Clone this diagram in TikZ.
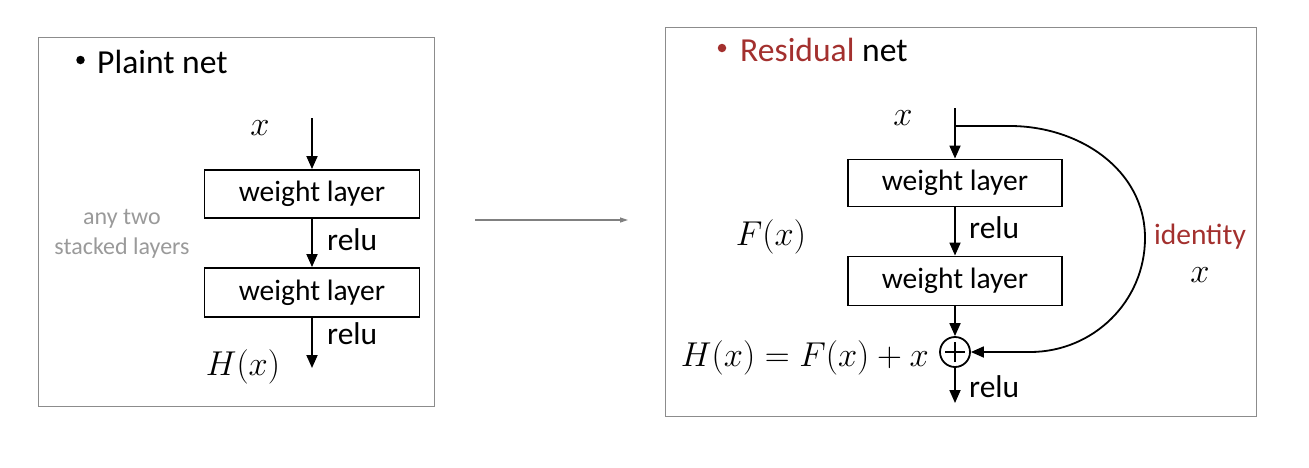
\RequirePackage{fix-cm}
\documentclass[tikz,border=0pt]{standalone}
\usepackage{fontspec}
\setmainfont{Carlito}
\usetikzlibrary{arrows.meta}
\definecolor{resred}{HTML}{A3302E}
\definecolor{panelgray}{HTML}{8C8C8C}
\definecolor{lightgray}{HTML}{9A9A9A}
\tikzset{
  panel/.style={draw=panelgray, line width=1pt},
  layerbox/.style={draw=black, line width=1.9pt, minimum width=215pt, inner sep=0pt, font=\fontsize{29.5}{34}\selectfont},
  flow/.style={line width=1.8pt, -{Triangle[length=13pt,width=11pt]}},
  lbl/.style={inner sep=0pt, font=\fontsize{31.5}{36}\selectfont},
  mathlbl/.style={inner sep=0pt, font=\fontsize{34.5}{40}\selectfont},
  title/.style={inner sep=0pt, anchor=west, font=\fontsize{33.6}{38}\selectfont},
  bulletdot/.style={circle, fill, inner sep=0pt, minimum size=8.5pt},
}
\begin{document}
\begin{tikzpicture}[x=1pt,y=-1pt]
\useasboundingbox (0,0) rectangle (1309,467);
% panels
\draw[panel] (38,37) rectangle (434,406);
\draw[panel] (665,27) rectangle (1256,416);

% ---------- left: plain net ----------
\node[bulletdot] (lbullet) at (80.5,60) {};
\node[title] (ltitle) at (97,62) {Plaint net};
\node[layerbox, minimum height=48pt] (lb1) at (312,194) {weight layer};
\node[layerbox, minimum height=49pt] (lb2) at (312,292.5) {weight layer};
\coordinate (lin) at (312,118);
\coordinate (lout) at (312,368);
\node[mathlbl] (lx) at (260,128) {$x$};
\node[mathlbl] (lH) at (243,367) {$H(x)$};
\node[lbl, anchor=west] (lrelu1) at (327,240) {relu};
\node[lbl, anchor=west] (lrelu2) at (327,334) {relu};
\node[inner sep=0pt, align=center, text=lightgray, font=\fontsize{24}{30}\selectfont] (lany) at (122,234) {any two\\stacked layers};
\draw[flow] (lin) -- (lb1.north);
\draw[flow] (lb1.south) -- (lb2.north);
\draw[flow] (lb2.south) -- (lout);

% ---------- middle arrow ----------
\coordinate (ma) at (475,220);
\coordinate (mb) at (628,220);
\draw[draw=gray, line width=1.2pt, -{Triangle[length=8pt,width=5pt]}] (ma) -- (mb);

% ---------- right: residual net ----------
\node[bulletdot, fill=resred] (rbullet) at (722,48) {};
\node[title] (rtitle) at (740,50) {\textcolor{resred}{Residual} net};
\node[layerbox, minimum width=214pt, minimum height=47pt] (rb1) at (955,183) {weight layer};
\node[layerbox, minimum width=214pt, minimum height=49pt] (rb2) at (955,281) {weight layer};
\node[draw, circle, line width=1.8pt, minimum size=30pt, inner sep=0pt] (plus) at (955,352) {};
\draw[line width=1.6pt] ([xshift=-10pt]plus.center) -- ([xshift=10pt]plus.center);
\draw[line width=1.6pt] ([yshift=-10pt]plus.center) -- ([yshift=10pt]plus.center);
\coordinate (rin) at (955,108);
\coordinate (rsplit) at (955,126);
\coordinate (rright) at (1145,238);
\coordinate (rout) at (955,403);
\node[mathlbl] (rx) at (903,118) {$x$};
\node[mathlbl] (rF) at (771,237) {$F(x)$};
\node[mathlbl, anchor=east] (rH) at (929,358) {$H(x)=F(x)+x$};
\node[lbl, anchor=west] (rrelu1) at (969,228) {relu};
\node[lbl, anchor=west] (rrelu2) at (969,387) {relu};
\node[lbl, text=resred, font=\fontsize{29.5}{34}\selectfont] (rid) at (1200,237) {identity};
\node[mathlbl] (rx2) at (1200,275) {$x$};
\draw[flow] (rin) -- (rb1.north);
\draw[flow] (rb1.south) -- (rb2.north);
\draw[flow] (rb2.south) -- (plus.north);
\draw[flow] (plus.south) -- (rout);
\draw[flow] (rsplit) -- (1010,126) to[out=0,in=90] (rright) to[out=-90,in=0] (1030,352) -- (plus.east);
\end{tikzpicture}
\end{document}
